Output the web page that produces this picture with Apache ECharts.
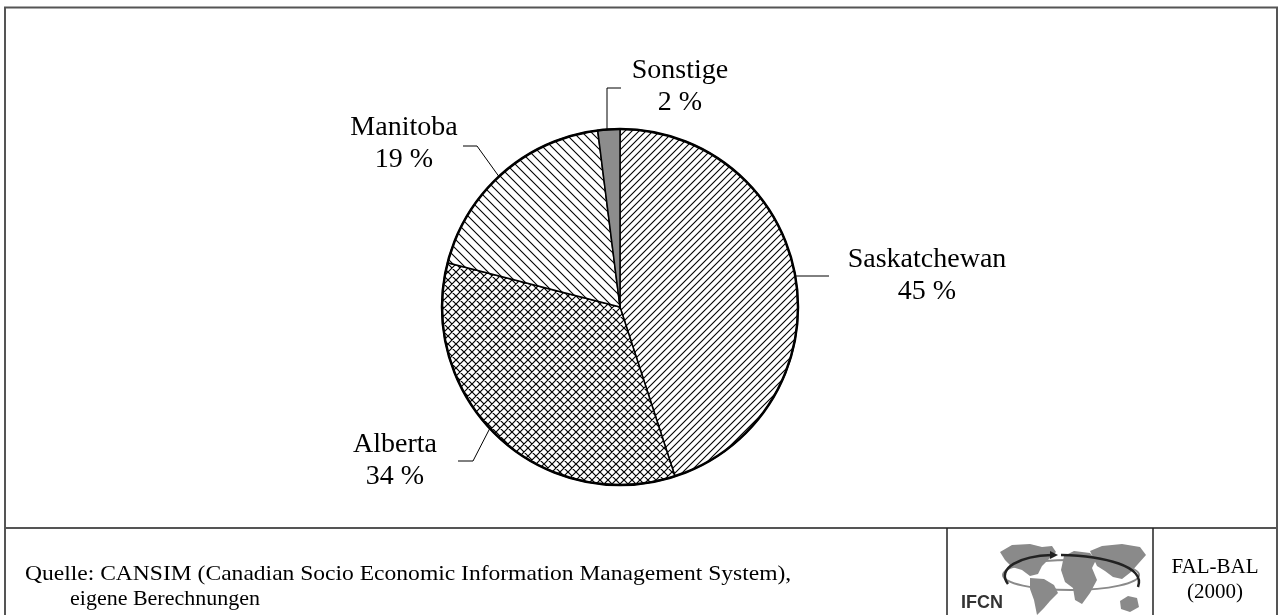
<!DOCTYPE html>
<html><head><meta charset="utf-8">
<script src="https://cdn.jsdelivr.net/npm/echarts@6/dist/echarts.min.js"></script>
<style>html,body{margin:0;padding:0;background:#fff}#c{width:1278px;height:615px}</style>
</head><body><div id="c"></div>
<script>
// ---- data ----
const categories = ['Saskatchewan', 'Alberta', 'Manitoba', 'Sonstige'];
const shares = [45, 34, 19, 2];
const sourceLine1 = 'Quelle: CANSIM (Canadian Socio Economic Information Management System),';
const sourceLine2 = 'eigene Berechnungen';
const stampLines = ['FAL-BAL', '(2000)'];
const logoText = 'IFCN';

// ---- layout / style (not data) ----
const CX = 620, CY = 307, R = 178;
const labelSpots = [
  { c: [307, -31], pts: [[176, -31], [192, -31], [209, -31]] },
  { c: [-225, 154], pts: [[-130, 121], [-147, 154], [-162, 154]] },
  { c: [-216, -163], pts: [[-120, -129], [-143, -161], [-157, -161]] },
  { c: [60, -220], pts: [[-13, -178], [-13, -219], [1, -219]] }
];

function hatch(size, dirs, lw) {
  const c = document.createElement('canvas');
  c.width = c.height = size;
  const g = c.getContext('2d');
  g.fillStyle = '#fff'; g.fillRect(0, 0, size, size);
  g.strokeStyle = '#000'; g.lineWidth = lw;
  g.beginPath();
  for (let k = -1; k <= 1; k++) {
    if (dirs.indexOf('/') >= 0) { g.moveTo(k * size - 1, size + 1); g.lineTo(k * size + size + 1, -1); }
    if (dirs.indexOf('\\') >= 0) { g.moveTo(k * size - 1, -1); g.lineTo(k * size + size + 1, size + 1); }
  }
  g.stroke();
  return c;
}
const fills = [
  { image: hatch(7, '/', 1.1), repeat: 'repeat' },
  { image: hatch(8, '/\\', 1.2), repeat: 'repeat' },
  { image: hatch(9, '\\', 1.1), repeat: 'repeat' },
  '#8c8c8c'
];

const pieData = categories.map((n, i) => ({ name: n, value: shares[i], itemStyle: { color: fills[i] } }));
const total = shares.reduce((a, b) => a + b, 0);

const serif = '"Liberation Serif", "Times New Roman", serif';
const gray = '#8a8a8a';

const logo = [
  { type: 'ellipse', shape: { cx: 1071, cy: 575, rx: 68, ry: 15 }, style: { fill: 'none', stroke: gray, lineWidth: 2 } },
  { type: 'polygon', shape: { points: [[1000,552],[1012,545],[1030,544],[1042,547],[1052,546],[1056,552],[1048,560],[1042,566],[1038,574],[1030,576],[1022,570],[1012,567],[1005,560]] }, style: { fill: gray } },
  { type: 'polygon', shape: { points: [[1030,578],[1044,579],[1054,585],[1058,593],[1050,601],[1044,608],[1037,615],[1034,600],[1030,589]] }, style: { fill: gray } },
  { type: 'polygon', shape: { points: [[1064,556],[1074,551],[1090,553],[1096,560],[1092,568],[1097,580],[1090,593],[1082,604],[1075,600],[1073,588],[1065,582],[1061,570]] }, style: { fill: gray } },
  { type: 'polygon', shape: { points: [[1090,551],[1102,546],[1122,544],[1140,547],[1146,555],[1138,564],[1131,572],[1122,579],[1113,577],[1105,571],[1097,566]] }, style: { fill: gray } },
  { type: 'polygon', shape: { points: [[1120,601],[1128,596],[1137,598],[1139,607],[1130,612],[1121,609]] }, style: { fill: gray } },
  { type: 'bezierCurve', shape: { x1: 1008, y1: 584, cpx1: 996, cpy1: 568, cpx2: 1020, cpy2: 556, x2: 1052, y2: 555 }, style: { stroke: '#222', lineWidth: 2.5, fill: 'none' } },
  { type: 'polygon', shape: { points: [[1050,551],[1058,555],[1050,559]] }, style: { fill: '#222' } },
  { type: 'bezierCurve', shape: { x1: 1061, y1: 555, cpx1: 1104, cpy1: 556, cpx2: 1146, cpy2: 566, x2: 1138, y2: 587 }, style: { stroke: '#222', lineWidth: 2.5, fill: 'none' } },
  { type: 'text', style: { x: 961, y: 603, text: logoText, font: 'bold 18px "Liberation Sans", Arial, sans-serif', fill: '#333', textVerticalAlign: 'middle' } }
];

const frame = [
  { type: 'rect', shape: { x: 5, y: 7.5, width: 1272, height: 620 }, style: { fill: 'none', stroke: '#555', lineWidth: 2 } },
  { type: 'line', shape: { x1: 5, y1: 528, x2: 1277, y2: 528 }, style: { stroke: '#555', lineWidth: 2 } },
  { type: 'line', shape: { x1: 947, y1: 528, x2: 947, y2: 620 }, style: { stroke: '#222', lineWidth: 1.5 } },
  { type: 'line', shape: { x1: 1153, y1: 528, x2: 1153, y2: 620 }, style: { stroke: '#222', lineWidth: 1.5 } },
  { type: 'text', x: 25, y: 574, scaleX: 1.07, originX: 0, originY: 0,
    style: { x: 0, y: 0, text: sourceLine1, font: '22px ' + serif, fill: '#000', textVerticalAlign: 'middle' } },
  { type: 'text', style: { x: 70, y: 599, text: sourceLine2, font: '22px ' + serif, fill: '#000', textVerticalAlign: 'middle' } },
  { type: 'text', style: { x: 1215, y: 567, text: stampLines[0], font: '21px ' + serif, fill: '#000', textAlign: 'center', textVerticalAlign: 'middle' } },
  { type: 'text', style: { x: 1215, y: 592, text: stampLines[1], font: '21px ' + serif, fill: '#000', textAlign: 'center', textVerticalAlign: 'middle' } }
];

const chart = echarts.init(document.getElementById('c'), null, { renderer: 'canvas' });
chart.setOption({
  animation: false,
  backgroundColor: '#fff',
  graphic: frame.concat(logo),
  series: [
    {
      type: 'pie',
      center: [CX, CY],
      radius: [0, R],
      startAngle: 90,
      clockwise: true,
      data: pieData,
      itemStyle: { borderColor: '#000', borderWidth: 1.5 },
      emphasis: { disabled: true },
      label: {
        show: true,
        position: 'outside',
        formatter: '{b}\n{c} %',
        fontFamily: serif,
        fontSize: 28,
        lineHeight: 32,
        color: '#000',
        align: 'center'
      },
      labelLine: { show: true, lineStyle: { color: '#000', width: 1 } },
      labelLayout: function (p) {
        const s = labelSpots[p.dataIndex];
        return {
          x: CX + s.c[0], y: CY + s.c[1], align: 'center', verticalAlign: 'middle',
          labelLinePoints: s.pts.map(q => [CX + q[0], CY + q[1]])
        };
      }
    },
    {
      type: 'pie', silent: true, center: [CX, CY], radius: [0, R],
      data: [{ value: total, name: 'outline' }],
      itemStyle: { color: 'rgba(0,0,0,0)', borderColor: '#000', borderWidth: 2.5 },
      label: { show: false }, labelLine: { show: false }, emphasis: { disabled: true }
    }
  ]
});
</script>
</body></html>
